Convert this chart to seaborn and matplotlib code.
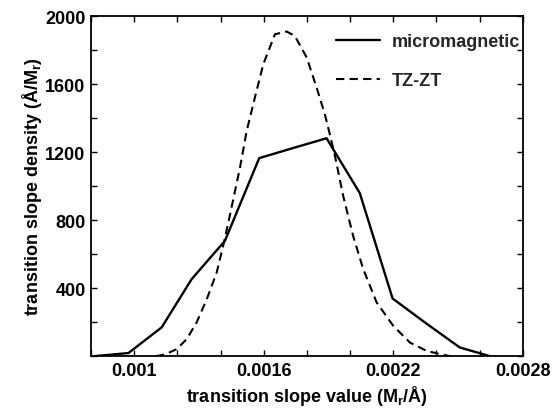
import matplotlib
matplotlib.use("Agg")
import matplotlib.pyplot as plt
import seaborn as sns
import pandas as pd
from matplotlib.ticker import FixedLocator, FixedFormatter

sns.set_theme(style="ticks")
plt.rcParams['font.family'] = ['Liberation Sans', 'DejaVu Sans']

# micromagnetic (solid)
micro_x = [0.000818, 0.000973, 0.001127, 0.001266, 0.00142, 0.001579, 0.001735,
           0.001891, 0.002045, 0.002197, 0.00235, 0.002508, 0.002647]
micro_y = [0, 18, 169, 453, 678, 1165, 1224, 1282, 959, 339, 195, 51, 0]

# TZ-ZT (dashed)
tz_x = [0.00110, 0.001143, 0.001197, 0.001243, 0.001289, 0.001336, 0.001382, 0.001412,
        0.001436, 0.001459, 0.00149, 0.001521, 0.001559, 0.001598, 0.001652,
        0.001706, 0.001744, 0.001799, 0.001845, 0.001883, 0.001906, 0.00193,
        0.001968, 0.002014, 0.002061, 0.002123, 0.0022, 0.002277, 0.002354,
        0.002416, 0.002462]
tz_y = [0, 10, 41, 100, 198, 335, 492, 649, 786, 924, 1110, 1325, 1522, 1718, 1894,
        1910, 1884, 1757, 1580, 1424, 1306, 1178, 943, 708, 512, 316, 178, 80, 31,
        12, 0]

x_ticks = [0.0008, 0.001, 0.0012, 0.0014, 0.0016, 0.0018, 0.002, 0.0022, 0.0024, 0.0026, 0.0028]
x_labels = ['', '0.001', '', '', '0.0016', '', '', '0.0022', '', '', '0.0028']
y_ticks = [0, 200, 400, 600, 800, 1000, 1200, 1400, 1600, 1800, 2000]
y_labels = ['', '', '400', '', '800', '', '1200', '', '1600', '', '2000']

df_micro = pd.DataFrame({'x': micro_x, 'y': micro_y})
df_tz = pd.DataFrame({'x': tz_x, 'y': tz_y})

fig = plt.figure(figsize=(5.52, 4.10), dpi=100)
ax = fig.add_axes([0.165, 0.129, 0.782, 0.829])

sns.lineplot(data=df_micro, x='x', y='y', ax=ax, color='black', linewidth=1.7,
             label='micromagnetic', sort=False)
sns.lineplot(data=df_tz, x='x', y='y', ax=ax, color='black', linewidth=1.5,
             label='TZ-ZT', sort=False, dashes=False)
ax.lines[1].set_linestyle((0, (4, 2.5)))

ax.set_xlim(0.0008, 0.0028)
ax.set_ylim(0, 2000)
ax.xaxis.set_major_locator(FixedLocator(x_ticks))
ax.xaxis.set_major_formatter(FixedFormatter(x_labels))
ax.yaxis.set_major_locator(FixedLocator(y_ticks))
ax.yaxis.set_major_formatter(FixedFormatter(y_labels))
ax.tick_params(direction='in', top=True, right=True, length=4, width=1,
               labelsize=13, colors='black', pad=4)
for lab in ax.get_xticklabels() + ax.get_yticklabels():
    lab.set_fontweight('bold')
for s in ax.spines.values():
    s.set_visible(True)
    s.set_color('black')
    s.set_linewidth(1.3)

ax.set_xlabel('transition slope value (M$_\\mathregular{r}$/Å)', fontsize=13,
              fontweight='bold', color='black', labelpad=3)
ax.set_ylabel('transition slope density (Å/M$_\\mathregular{r}$)', fontsize=13,
              fontweight='bold', color='black', labelpad=1)

leg = ax.legend(loc='upper right', bbox_to_anchor=(1.003, 0.96), frameon=False,
                fontsize=13, handlelength=2.4, labelspacing=1.2, borderpad=0.2,
                borderaxespad=0.0, handletextpad=0.7)
for t in leg.get_texts():
    t.set_fontweight('bold')
leg.get_lines()[1].set_linestyle((0, (4, 2.5)))

fig.savefig('out.png', dpi=100, facecolor='white')
